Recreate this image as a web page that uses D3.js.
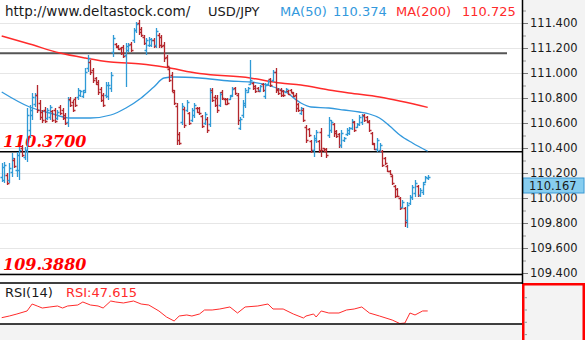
<!DOCTYPE html>
<html><head><meta charset="utf-8">
<script src="https://cdn.jsdelivr.net/npm/d3@7"></script>
<style>html,body{margin:0;padding:0;background:#fff;} svg{display:block;}</style>
</head><body><svg id="c" width="585" height="340"></svg>
<script>
// ---------------- DATA ----------------
const symbol = "USD/JPY";
const site = "http://www.deltastock.com/";
const ma50Last = "110.374", ma200Last = "110.725", lastPrice = "110.167", rsiLast = "47.615";
const priceTicks = [111.4,111.2,111.0,110.8,110.6,110.4,110.2,110.0,109.8,109.6,109.4];
const priceMinorTicks = [111.5,111.3,111.1,110.9,110.7,110.5,110.3,110.1,109.9,109.7,109.5];
const rsiTicks = [70,50,30,10];
const levelValues = [110.37, 109.388];
const levelLabels = ["110.3700", "109.3880"];
const resistance = 111.158;

const opens = [110.168,110.144,110.184,110.144,110.208,110.304,110.224,110.224,110.400,110.328,
 110.384,110.544,110.664,110.752,110.824,110.760,110.688,110.704,110.640,110.648,
 110.696,110.704,110.640,110.728,110.704,110.664,110.608,110.792,110.768,110.792,
 110.808,110.824,110.816,110.864,111.040,111.088,111.024,110.960,110.928,110.872,
 110.824,110.824,110.816,110.880,111.168,111.232,111.216,111.200,111.208,111.144,
 111.184,111.232,111.264,111.344,111.400,111.352,111.288,111.184,111.224,111.224,
 111.264,111.224,111.304,111.288,111.224,111.128,111.032,110.984,110.848,110.736,
 110.512,110.608,110.712,110.704,110.680,110.624,110.664,110.720,110.720,110.656,
 110.600,110.632,110.592,110.864,110.808,110.800,110.744,110.848,110.792,110.792,
 110.792,110.824,110.880,110.824,110.560,110.664,110.744,110.848,110.912,110.920,
 110.896,110.880,110.864,110.912,110.816,110.912,110.952,110.944,111.008,110.872,
 110.864,110.856,110.848,110.856,110.864,110.840,110.824,110.752,110.680,110.704,
 110.568,110.552,110.456,110.384,110.464,110.456,110.528,110.400,110.392,110.504,
 110.544,110.592,110.536,110.512,110.424,110.464,110.512,110.520,110.560,110.608,
 110.568,110.592,110.608,110.664,110.648,110.616,110.520,110.432,110.392,110.384,
 110.376,110.320,110.256,110.216,110.176,110.096,110.072,110.000,109.928,109.920,
 109.824,109.960,110.008,110.040,110.096,110.024,110.048,110.128,110.160];
const highs = [110.280,110.288,110.200,110.280,110.360,110.320,110.368,110.408,110.424,110.408,
 110.720,110.744,110.840,110.840,110.904,110.784,110.704,110.728,110.720,110.744,
 110.704,110.720,110.704,110.744,110.720,110.680,110.808,110.808,110.784,110.808,
 110.880,110.864,110.864,111.040,111.144,111.104,111.040,110.968,110.944,110.888,
 110.840,110.928,110.928,111.008,111.304,111.240,111.224,111.208,111.224,111.240,
 111.240,111.248,111.360,111.408,111.424,111.368,111.304,111.280,111.288,111.280,
 111.280,111.360,111.320,111.304,111.248,111.144,111.048,111.008,110.864,110.760,
 110.528,110.760,110.728,110.784,110.688,110.720,110.760,110.728,110.728,110.664,
 110.688,110.648,110.880,110.880,110.824,110.824,110.848,110.864,110.800,110.800,
 110.824,110.888,110.888,110.840,110.648,110.784,110.880,110.888,111.104,110.928,
 110.904,110.888,110.904,110.920,110.920,110.944,110.960,111.024,111.040,110.880,
 110.880,110.864,110.880,110.864,110.872,110.848,110.840,110.760,110.728,110.720,
 110.584,110.560,110.464,110.504,110.544,110.464,110.560,110.400,110.400,110.648,
 110.624,110.600,110.544,110.520,110.544,110.488,110.560,110.568,110.632,110.616,
 110.600,110.664,110.672,110.672,110.656,110.624,110.528,110.440,110.480,110.440,
 110.384,110.328,110.264,110.224,110.184,110.104,110.080,110.008,109.984,109.928,
 109.968,110.024,110.104,110.144,110.104,110.080,110.128,110.176,110.184];
const lows = [110.128,110.120,110.104,110.120,110.168,110.240,110.168,110.144,110.328,110.304,
 110.288,110.480,110.624,110.728,110.680,110.624,110.600,110.600,110.624,110.624,
 110.608,110.600,110.624,110.664,110.624,110.584,110.568,110.728,110.688,110.728,
 110.784,110.808,110.800,110.840,111.008,110.984,110.920,110.904,110.824,110.768,
 110.728,110.800,110.784,110.848,111.128,111.200,111.184,111.144,111.120,110.888,
 111.168,111.168,111.240,111.320,111.304,111.288,111.224,111.144,111.208,111.208,
 111.200,111.200,111.200,111.200,111.088,111.040,110.928,110.848,110.744,110.424,
 110.424,110.584,110.560,110.688,110.584,110.608,110.640,110.680,110.664,110.560,
 110.584,110.520,110.568,110.768,110.728,110.680,110.728,110.784,110.744,110.744,
 110.784,110.808,110.824,110.584,110.544,110.640,110.720,110.840,110.904,110.864,
 110.840,110.848,110.848,110.848,110.792,110.904,110.888,110.928,110.840,110.824,
 110.808,110.808,110.840,110.824,110.840,110.808,110.688,110.688,110.664,110.608,
 110.440,110.488,110.360,110.328,110.440,110.360,110.328,110.368,110.320,110.480,
 110.520,110.488,110.480,110.400,110.400,110.448,110.496,110.504,110.544,110.528,
 110.560,110.576,110.584,110.608,110.600,110.528,110.424,110.384,110.368,110.360,
 110.248,110.264,110.208,110.184,110.104,110.000,110.008,109.904,109.920,109.768,
 109.760,109.944,109.984,110.008,110.008,110.008,110.024,110.120,110.144];
const closes = [110.248,110.264,110.120,110.240,110.320,110.256,110.344,110.384,110.344,110.384,
 110.664,110.704,110.808,110.824,110.704,110.648,110.624,110.616,110.704,110.728,
 110.624,110.616,110.688,110.680,110.640,110.600,110.784,110.744,110.704,110.744,
 110.864,110.856,110.848,111.008,111.120,111.008,110.944,110.912,110.848,110.784,
 110.744,110.904,110.904,110.984,111.280,111.208,111.192,111.160,111.136,111.216,
 111.224,111.184,111.344,111.392,111.328,111.304,111.240,111.264,111.272,111.264,
 111.216,111.336,111.224,111.216,111.120,111.056,110.944,110.864,110.760,110.464,
 110.440,110.736,110.584,110.768,110.600,110.704,110.744,110.688,110.680,110.576,
 110.672,110.544,110.848,110.784,110.744,110.704,110.832,110.800,110.752,110.760,
 110.816,110.872,110.840,110.624,110.632,110.760,110.864,110.880,110.944,110.880,
 110.856,110.856,110.896,110.864,110.904,110.936,110.904,111.008,110.864,110.840,
 110.824,110.824,110.872,110.832,110.848,110.816,110.720,110.704,110.720,110.624,
 110.464,110.504,110.384,110.480,110.528,110.384,110.384,110.376,110.344,110.624,
 110.608,110.520,110.496,110.424,110.520,110.480,110.544,110.560,110.616,110.544,
 110.592,110.648,110.656,110.624,110.608,110.544,110.440,110.392,110.464,110.424,
 110.264,110.280,110.216,110.192,110.120,110.016,110.016,109.920,109.968,109.808,
 109.944,110.008,110.088,110.120,110.024,110.064,110.112,110.168,110.167];

const ma50Idx = [0,11,19,27,35,43,49,55,60,64,68,78,90,98,106,112,118,122,129,135,141,145,149,153,157,162,168];
const ma50 = [110.848,110.728,110.680,110.640,110.640,110.664,110.720,110.800,110.888,110.960,110.968,110.960,110.936,110.928,110.896,110.848,110.760,110.728,110.720,110.704,110.688,110.672,110.640,110.576,110.504,110.440,110.374];
const ma200Idx = [0,11,23,33,43,55,64,78,98,110,118,129,137,149,168];
const ma200 = [111.296,111.232,111.160,111.120,111.088,111.072,111.048,110.996,110.960,110.920,110.904,110.864,110.840,110.808,110.725];
const rsiIdx = [0,3,6,10,12,14,16,19,22,24,26,30,32,35,38,40,43,45,48,52,55,58,62,65,68,70,73,75,78,80,83,86,90,93,96,101,105,107,111,115,119,120,123,124,126,129,133,136,139,142,145,149,154,157,159,161,163,166,168];
const rsi = [36.7,39.4,42.7,47.6,58.9,55.7,52.4,54.1,55.7,52.4,55.7,57.3,62.2,57.3,55.7,52.4,63.8,62.2,60.6,63.8,58.9,57.3,47.6,37.8,31.3,39.4,41.1,39.4,42.7,49.2,49.2,50.8,54.1,44.3,54.1,55.7,58.9,50.8,50.8,42.7,36.2,39.4,42.7,37.8,47.6,44.3,44.3,49.2,50.8,54.1,44.3,39.4,32.9,27.2,28,44.3,41.1,47.6,47.615];

// ---------------- DRAW ----------------
const W = 585, H = 340, axX = 522;
const UP = "#2f9ad6", DOWN = "#b3272d", BLUE = "#3399dd", RED = "#ff2b2b";
const svg = d3.select("#c");
const x = d3.scaleLinear().domain([0, opens.length - 1]).range([1.7, 427.7]);
const y = d3.scaleLinear().domain([109.4, 111.4]).range([273, 23]);
const yr = d3.scaleLinear().domain([0, 100]).range([340.25, 278.75]);

svg.append("rect").attr("width", W).attr("height", H).attr("fill", "#fff");
svg.append("rect").attr("x", axX).attr("y", 0).attr("width", W - axX).attr("height", 284).attr("fill", "#f3f3f3");
svg.append("rect").attr("x", 0).attr("y", 324).attr("width", axX).attr("height", 16).attr("fill", "#f3f3f3");

// gridlines
svg.append("g").selectAll("line").data(priceTicks).join("line")
  .attr("x1", 0).attr("x2", axX).attr("y1", d => Math.round(y(d)) + 0.5).attr("y2", d => Math.round(y(d)) + 0.5)
  .attr("stroke", "#e6e6e6").attr("stroke-width", 1);

// header
const hdr = svg.append("g").attr("font-family", "DejaVu Sans").attr("font-size", 13);
hdr.append("text").attr("x", 5).attr("y", 16).attr("font-size", 13.5).attr("fill", "#1a1a1a").text(site);
hdr.append("text").attr("x", 208).attr("y", 16).attr("fill", "#1a1a1a").text(symbol);
hdr.append("text").attr("x", 280).attr("y", 16).attr("fill", BLUE).text("MA(50)");
hdr.append("text").attr("x", 333).attr("y", 16).attr("fill", BLUE).text(ma50Last);
hdr.append("text").attr("x", 396).attr("y", 16).attr("fill", RED).text("MA(200)");
hdr.append("text").attr("x", 462).attr("y", 16).attr("fill", RED).text(ma200Last);

// level lines
svg.append("line").attr("x1", 0).attr("x2", 507).attr("y1", y(resistance)).attr("y2", y(resistance))
  .attr("stroke", "#555").attr("stroke-width", 2);
svg.append("g").selectAll("line").data(levelValues).join("line")
  .attr("x1", 0).attr("x2", axX).attr("y1", d => y(d)).attr("y2", d => y(d))
  .attr("stroke", "#000").attr("stroke-width", 1.5);
svg.append("g").selectAll("text").data(levelValues).join("text")
  .attr("x", 3).attr("y", d => y(d) - 5)
  .attr("font-family", "DejaVu Serif").attr("font-weight", "bold").attr("font-style", "italic")
  .attr("font-size", 16).attr("fill", "#ff0000")
  .text((d, i) => levelLabels[i]);

// moving averages
const lineGen = d3.line().x(d => x(d[0])).y(d => y(d[1])).curve(d3.curveMonotoneX);
svg.append("path").datum(ma200Idx.map((k, i) => [k, ma200[i]])).attr("d", lineGen)
  .attr("fill", "none").attr("stroke", RED).attr("stroke-width", 1.5);
svg.append("path").datum(ma50Idx.map((k, i) => [k, ma50[i]])).attr("d", lineGen)
  .attr("fill", "none").attr("stroke", BLUE).attr("stroke-width", 1.3);

// OHLC bars
const bars = svg.append("g").attr("fill", "none").attr("stroke-width", 1.3);
opens.forEach((o, i) => {
  const xi = Math.round(x(i)) + 0.5;
  const yo = Math.round(y(o)) + 0.5, yc = Math.round(y(closes[i])) + 0.5;
  bars.append("path")
    .attr("d", `M${xi},${y(highs[i])}V${y(lows[i])}M${xi - 2},${yo}H${xi}M${xi},${yc}H${xi + 2}`)
    .attr("stroke", closes[i] >= o ? UP : DOWN);
});

// RSI panel
svg.append("text").attr("x", 5).attr("y", 297).attr("font-family", "DejaVu Sans").attr("font-size", 13)
  .attr("fill", "#1a1a1a").text("RSI(14)");
svg.append("text").attr("x", 66).attr("y", 297).attr("font-family", "DejaVu Sans").attr("font-size", 13)
  .attr("fill", RED).text("RSI:" + rsiLast);
svg.append("path").datum(rsiIdx.map((k, i) => [k, rsi[i]]))
  .attr("d", d3.line().x(d => x(d[0])).y(d => yr(d[1])))
  .attr("fill", "none").attr("stroke", RED).attr("stroke-width", 1);
[283, 324].forEach(v => svg.append("line").attr("x1", 0).attr("x2", axX).attr("y1", v).attr("y2", v)
  .attr("stroke", "#000").attr("stroke-width", 1.5));

// price axis
const axG = svg.append("g").attr("transform", `translate(${axX},0)`);
axG.call(d3.axisRight(y).tickValues(priceTicks).tickSize(6).tickPadding(2).tickFormat(d3.format(".3f")));
axG.select(".domain").remove();
axG.selectAll(".tick line").attr("stroke", "#777");
axG.selectAll(".tick text").attr("font-family", "DejaVu Sans").attr("font-size", 11.5).attr("fill", "#1a1a1a");
const axM = svg.append("g").attr("transform", `translate(${axX},0)`);
axM.call(d3.axisRight(y).tickValues(priceMinorTicks).tickSize(4).tickFormat(""));
axM.select(".domain").remove();
axM.selectAll(".tick line").attr("stroke", "#999");

// last price box
svg.append("rect").attr("x", axX + 1).attr("y", 178).attr("width", 61).attr("height", 15)
  .attr("fill", "#87cdef").attr("stroke", "#3b9ad6").attr("stroke-width", 1);
svg.append("text").attr("x", 529).attr("y", 190).attr("font-family", "DejaVu Sans").attr("font-size", 11.5)
  .attr("fill", "#1a1a1a").text(lastPrice);

// RSI axis box
svg.append("rect").attr("x", axX + 1.25).attr("y", 284.25).attr("width", 60.5).attr("height", 60)
  .attr("fill", "#f3f3f3").attr("stroke", "#ff0000").attr("stroke-width", 2.5);
const axR = svg.append("g").attr("transform", `translate(${axX + 2},0)`);
axR.call(d3.axisRight(yr).tickValues(rsiTicks).tickSize(3).tickFormat(""));
axR.select(".domain").remove();
axR.selectAll(".tick line").attr("stroke", "#999");

// axis separator
svg.append("line").attr("x1", axX + 0.5).attr("x2", axX + 0.5).attr("y1", 0).attr("y2", 284)
  .attr("stroke", "#000").attr("stroke-width", 1.5);
</script></body></html>
